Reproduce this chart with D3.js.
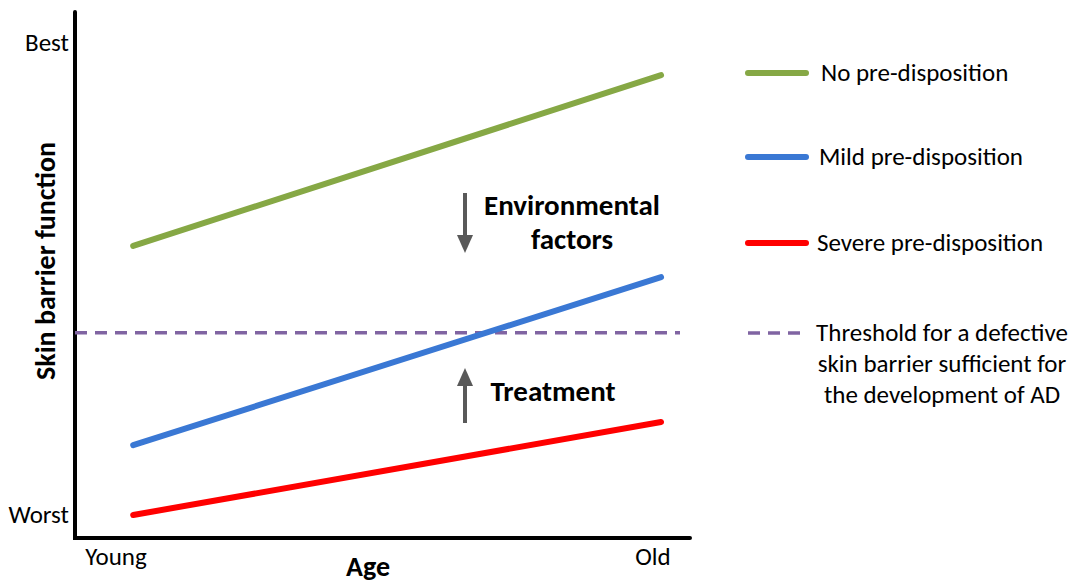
<!doctype html>
<html>
<head>
<meta charset="utf-8">
<title>Skin barrier function by age</title>
<script src="https://cdn.jsdelivr.net/npm/d3@7"></script>
<style>
    body { margin: 0; background: #fff; }
    text { font-family: Carlito, Lato, "Open Sans", sans-serif; fill: #000; }
    .bold { font-weight: bold; }
</style>
</head>
<body>
<script>
"use strict";

// age positions (0 = Young, 1 = Old) and skin barrier score (0 = Worst, 100 = Best)
const ageTicks = ["Young", "Old"];
const levelTicks = ["Worst", "Best"];
const seriesNames = ["No pre-disposition", "Mild pre-disposition", "Severe pre-disposition"];
const seriesColors = ["#86a845", "#3a78d4", "#ff0000"];
const ageStart = [0.032, 1.015];
const noPre = [57.0, 93.2];
const mildPre = [14.8, 50.4];
const severePre = [0, 19.7];
const threshold = 38.6;
const thresholdLabel = ["Threshold for a defective", "skin barrier sufficient for", "the development of AD"];

const width = 1071, height = 583;
const x = d3.scaleLinear().domain([0, 1]).range([116, 653]);
const y = d3.scaleLinear().domain([0, 100]).range([515, 43]);

const svg = d3.select("body").append("svg")
    .attr("width", width)
    .attr("height", height);

// axes
svg.append("path")
    .attr("d", "M75,12V538H690")
    .attr("fill", "none")
    .attr("stroke", "#000")
    .attr("stroke-width", 4)
    .attr("stroke-linecap", "round");

svg.append("g").selectAll("text")
    .data(levelTicks)
    .join("text")
    .attr("x", 69)
    .attr("y", (d, i) => y(i * 100))
    .attr("dy", "0.3em")
    .attr("text-anchor", "end")
    .attr("font-size", 25)
    .text(d => d);

svg.append("g").selectAll("text")
    .data(ageTicks)
    .join("text")
    .attr("x", (d, i) => x(i))
    .attr("y", 565)
    .attr("text-anchor", "middle")
    .attr("font-size", 25)
    .text(d => d);

svg.append("text")
    .attr("class", "bold")
    .attr("x", 368)
    .attr("y", 576)
    .attr("text-anchor", "middle")
    .attr("font-size", 28)
    .text("Age");

svg.append("text")
    .attr("class", "bold")
    .attr("transform", "translate(55,261) rotate(-90)")
    .attr("text-anchor", "middle")
    .attr("font-size", 28)
    .text("Skin barrier function");

// threshold
svg.append("line")
    .attr("x1", 75).attr("x2", 680)
    .attr("y1", y(threshold)).attr("y2", y(threshold))
    .attr("stroke", "#8064a2")
    .attr("stroke-width", 3.5)
    .attr("stroke-dasharray", "12,8");

// series lines
const series = [noPre, mildPre, severePre];
const line = d3.line()
    .x((d, i) => x(ageStart[i]))
    .y(d => y(d));

svg.append("g").selectAll("path")
    .data(series)
    .join("path")
    .attr("d", line)
    .attr("fill", "none")
    .attr("stroke", (d, i) => seriesColors[i])
    .attr("stroke-width", 6)
    .attr("stroke-linecap", "round");

// arrows
const arrow = (cx, y0, y1) => {
    const dir = y1 > y0 ? 1 : -1;
    const head = 18;
    svg.append("line")
        .attr("x1", cx).attr("x2", cx)
        .attr("y1", y0).attr("y2", y1 - dir * head)
        .attr("stroke", "#595959")
        .attr("stroke-width", 4);
    svg.append("path")
        .attr("d", `M${cx - 8},${y1 - dir * head}L${cx + 8},${y1 - dir * head}L${cx},${y1}Z`)
        .attr("fill", "#595959");
};
arrow(465, 193, 253);
arrow(465, 423, 368);

svg.append("text")
    .attr("class", "bold")
    .attr("x", 572)
    .attr("y", 215)
    .attr("text-anchor", "middle")
    .attr("font-size", 29)
    .text("Environmental");
svg.append("text")
    .attr("class", "bold")
    .attr("x", 572)
    .attr("y", 249)
    .attr("text-anchor", "middle")
    .attr("font-size", 29)
    .text("factors");
svg.append("text")
    .attr("class", "bold")
    .attr("x", 553)
    .attr("y", 401)
    .attr("text-anchor", "middle")
    .attr("font-size", 29)
    .text("Treatment");

// legend
const legendY = [73, 157, 243, 333];
const legend = svg.append("g");
seriesNames.forEach((name, i) => {
    legend.append("line")
        .attr("x1", 748).attr("x2", 806)
        .attr("y1", legendY[i]).attr("y2", legendY[i])
        .attr("stroke", seriesColors[i])
        .attr("stroke-width", 6)
        .attr("stroke-linecap", "round");
    legend.append("text")
        .attr("x", 821 - i * 2)
        .attr("y", legendY[i])
        .attr("dy", "0.33em")
        .attr("font-size", 25)
        .text(name);
});
legend.append("line")
    .attr("x1", 748).attr("x2", 808)
    .attr("y1", legendY[3]).attr("y2", legendY[3])
    .attr("stroke", "#8064a2")
    .attr("stroke-width", 3.5)
    .attr("stroke-dasharray", "12,8");
legend.append("g").selectAll("text")
    .data(thresholdLabel)
    .join("text")
    .attr("x", 942)
    .attr("y", (d, i) => legendY[3] + i * 31)
    .attr("dy", "0.33em")
    .attr("text-anchor", "middle")
    .attr("font-size", 25)
    .text(d => d);
</script>
</body>
</html>
